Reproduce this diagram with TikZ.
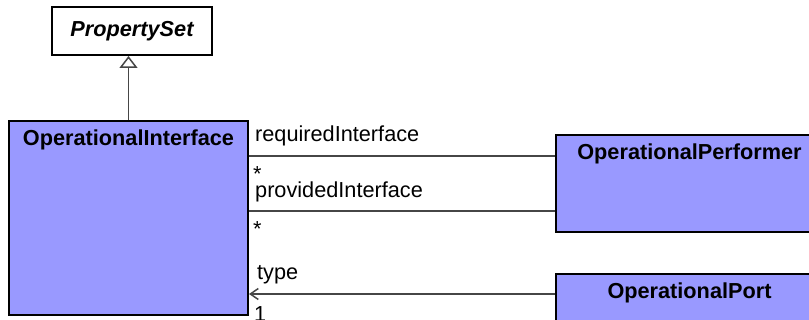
\documentclass[tikz,border=0pt]{standalone}
\usepackage{fontspec}
\setmainfont{Liberation Sans}
\usepackage{tikz}
\usetikzlibrary{arrows.meta, positioning}
\definecolor{classblue}{RGB}{153,153,255}
\definecolor{linegray}{RGB}{70,70,70}
\newcommand{\diagfont}{\fontsize{21.7pt}{26pt}\selectfont}
\tikzstyle{classbox} = [rectangle, anchor=north west, inner sep=0pt, draw=black, line width=2pt, fill=classblue]
\tikzstyle{abstractbox} = [rectangle, minimum width=160pt, minimum height=48pt, draw=black, line width=1.5pt, fill=white, font=\diagfont\bfseries\itshape]
\tikzstyle{classname} = [anchor=base, inner sep=0pt, font=\diagfont\bfseries]
\tikzstyle{role} = [anchor=base west, inner sep=0pt, font=\diagfont]
\tikzstyle{assoc} = [draw=linegray, line width=1.5pt]

\begin{document}
\begin{tikzpicture}[x=1pt, y=-1pt]
    \useasboundingbox (0,0) rectangle (809,320);
    \clip (0,0) rectangle (809,320);

    % Define blocks
    \node (oi) [classbox, minimum width=239pt, minimum height=194pt,
        label={[classname, yshift=-26pt]north:OperationalInterface}] at (8,120) {};
    \node (ps) [abstractbox, above=64pt of oi, xshift=3.5pt] {PropertySet};
    \node (perf) [classbox, minimum width=267pt, minimum height=97pt,
        label={[classname, yshift=-26pt]north:OperationalPerformer}] at ([xshift=306pt, yshift=-14pt]oi.north east) {};
    \node (port) [classbox, minimum width=267pt, minimum height=100pt,
        label={[classname, yshift=-26pt]north:OperationalPort}] at ([yshift=-40pt]perf.south west) {};

    % Draw connectors
    \draw [assoc, -{Triangle[open, length=12pt, width=18pt, fill=white]}] (oi.north) -- (oi.north |- ps.south);

    \coordinate (reqpt) at ([yshift=-22pt]perf.north west);
    \coordinate (provpt) at ([yshift=-77pt]perf.north west);
    \coordinate (typept) at ([yshift=-21pt]port.north west);
    \draw [assoc] (reqpt) -- (reqpt -| oi.east);
    \draw [assoc] (provpt) -- (provpt -| oi.east);
    \draw [assoc, -{Straight Barb[length=8pt, width=11pt]}] (typept) -- (typept -| oi.east);

    % Role names and multiplicities
    \node (reqname) [role, xshift=6pt, yshift=14pt] at (reqpt -| oi.east) {requiredInterface};
    \node (reqmult) [role, xshift=4pt, yshift=-26pt] at (reqpt -| oi.east) {*};
    \node (provname) [role, xshift=6pt, yshift=13pt] at (provpt -| oi.east) {providedInterface};
    \node (provmult) [role, xshift=4pt, yshift=-26pt] at (provpt -| oi.east) {*};
    \node (typename) [role, xshift=8pt, yshift=14pt] at (typept -| oi.east) {type};
    \node (typemult) [role, xshift=5pt, yshift=-28pt] at (typept -| oi.east) {1};
\end{tikzpicture}
\end{document}
